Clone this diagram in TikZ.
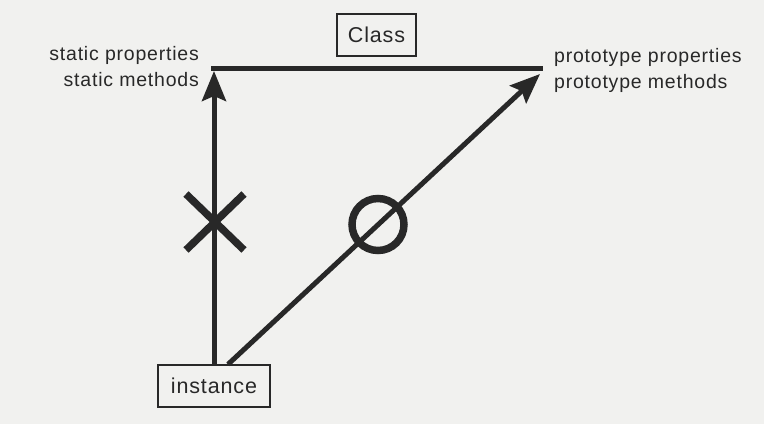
\documentclass[tikz,border=0pt]{standalone}
\usepackage{fontspec}
\setmainfont{Liberation Sans}[LetterSpace=4]
\usetikzlibrary{arrows.meta}
\definecolor{ink}{RGB}{40,40,40}
\definecolor{paper}{RGB}{241,241,239}
\tikzset{
  box/.style={draw=ink, line width=1.3pt, inner sep=0pt, text=ink, font=\fontsize{21.5}{24}\selectfont},
  lbl/.style={inner sep=0pt, text=ink, font=\fontsize{19.5}{22}\selectfont},
  bar/.style={draw=ink, line width=4.8pt},
  arr/.style={draw=ink, line width=5pt, -{Stealth[length=30pt,width=24pt,inset=5pt]}},
  sign/.style={draw=ink, line width=7.5pt}
}
\begin{document}
\begin{tikzpicture}[x=1pt,y=-1pt]
\fill[paper] (0,0) rectangle (764,424);
\useasboundingbox (0,0) rectangle (764,424);

\node[box, minimum width=79pt, minimum height=42pt] (cls) at (376.5,35) {Class};
\node[box, minimum width=112pt, minimum height=42pt] (inst) at (214,386) {instance};

\coordinate (L) at (211,68.5);
\coordinate (R) at (543,68.5);
\draw[bar] (L) -- (R);

\node[lbl, anchor=base east] (sp) at (199,60) {static properties};
\node[lbl, anchor=base east] (sm) at (199,86.5) {static methods};
\node[lbl, anchor=base west] (pp) at (554,62) {prototype properties};
\node[lbl, anchor=base west] (pm) at (554,88) {prototype methods};

\coordinate (vtip) at (214,71);
\coordinate (dtip) at (540,74);
\draw[arr] (inst.north) -- (vtip);
\draw[arr] ([xshift=14pt]inst.north) -- (dtip);

% X mark
\coordinate (xc) at (215,222);
\draw[sign] ([shift={(-29,-28)}]xc) -- ([shift={(29,28)}]xc);
\draw[sign] ([shift={(-29,28)}]xc) -- ([shift={(29,-28)}]xc);

% O mark
\coordinate (oc) at (378,224.5);
\draw[sign] (oc) circle[radius=26];
\end{tikzpicture}
\end{document}
